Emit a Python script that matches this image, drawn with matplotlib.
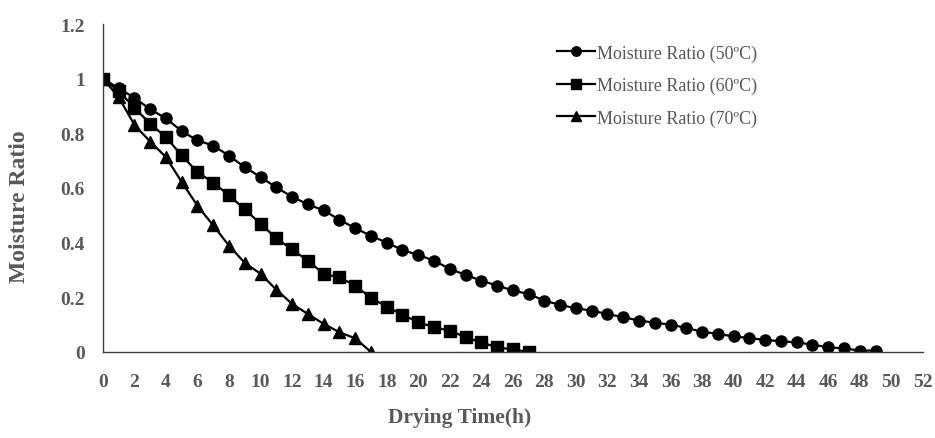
import matplotlib
matplotlib.use("Agg")
import matplotlib.pyplot as plt

# drying time (h) for each temperature
hours_50 = list(range(0, 50))
hours_60 = list(range(0, 28))
hours_70 = list(range(0, 18))

# moisture ratio
mr_50 = [1.0, 0.965, 0.93, 0.888, 0.855, 0.808, 0.774, 0.755, 0.718, 0.676,
         0.64, 0.602, 0.568, 0.54, 0.518, 0.484, 0.453, 0.425, 0.40, 0.373,
         0.355, 0.334, 0.304, 0.282, 0.261, 0.243, 0.225, 0.212, 0.188, 0.172,
         0.16, 0.151, 0.139, 0.127, 0.115, 0.107, 0.1, 0.088, 0.074, 0.066,
         0.057, 0.051, 0.044, 0.039, 0.035, 0.027, 0.017, 0.013, 0.005, 0.005]
mr_60 = [1.0, 0.955, 0.894, 0.835, 0.786, 0.719, 0.658, 0.62, 0.573, 0.522,
         0.469, 0.416, 0.375, 0.334, 0.286, 0.273, 0.243, 0.198, 0.166, 0.136,
         0.109, 0.09, 0.078, 0.054, 0.035, 0.017, 0.009, 0.0]
mr_70 = [1.0, 0.933, 0.831, 0.77, 0.713, 0.622, 0.535, 0.463, 0.389, 0.326,
         0.286, 0.228, 0.176, 0.139, 0.103, 0.072, 0.05, 0.0]

labels = ["Moisture Ratio (50ºC)", "Moisture Ratio (60ºC)", "Moisture Ratio (70ºC)"]
x_ticks = list(range(0, 53, 2))
y_ticks = [0, 0.2, 0.4, 0.6, 0.8, 1, 1.2]
y_tick_labels = ["0", "0.2", "0.4", "0.6", "0.8", "1", "1.2"]

plt.rcParams['font.family'] = ['Liberation Serif', 'DejaVu Serif']
grey = '#595959'

fig = plt.figure(figsize=(9.35, 4.39), dpi=100)
ax = fig.add_axes([0.110, 0.196, 0.877, 0.747])

ax.plot(hours_50, mr_50, color='black', lw=1.6, marker='o', ms=8, label=labels[0])
ax.plot(hours_60, mr_60, color='black', lw=1.6, marker='s', ms=8, label=labels[1])
ax.plot(hours_70, mr_70, color='black', lw=1.6, marker='^', ms=8.5, label=labels[2])

ax.set_xlim(0, 52)
ax.set_ylim(0, 1.2)
ax.set_xticks(x_ticks)
ax.set_xticklabels([str(v) for v in x_ticks])
ax.set_yticks(y_ticks)
ax.set_yticklabels(y_tick_labels)
ax.tick_params(length=0, labelsize=14, labelcolor=grey)
ax.tick_params(axis='x', pad=15)
ax.tick_params(axis='y', pad=13)
for lab in ax.get_xticklabels() + ax.get_yticklabels():
    lab.set_fontweight('bold')

for side in ['top', 'right']:
    ax.spines[side].set_visible(False)
for side in ['left', 'bottom']:
    ax.spines[side].set_color('#404040')
    ax.spines[side].set_linewidth(1.0)

# axis titles placed where they sit in the reference
fig.text(460 / 935, 1 - 418 / 439, "Drying Time(h)", fontsize=15.5, fontweight='bold',
         color=grey, ha='center', va='center')
fig.text(20 / 935, 1 - 207 / 439, "Moisture Ratio", fontsize=17, fontweight='bold',
         color=grey, ha='center', va='center', rotation=90)

leg = ax.legend(loc='upper left', bbox_to_anchor=(0.543, 0.966), frameon=False,
                fontsize=13, handlelength=2.1, handletextpad=0.1, labelspacing=0.85,
                borderpad=0, markerscale=0.85)
for txt in leg.get_texts():
    txt.set_color(grey)

fig.savefig("out.png", dpi=100)
